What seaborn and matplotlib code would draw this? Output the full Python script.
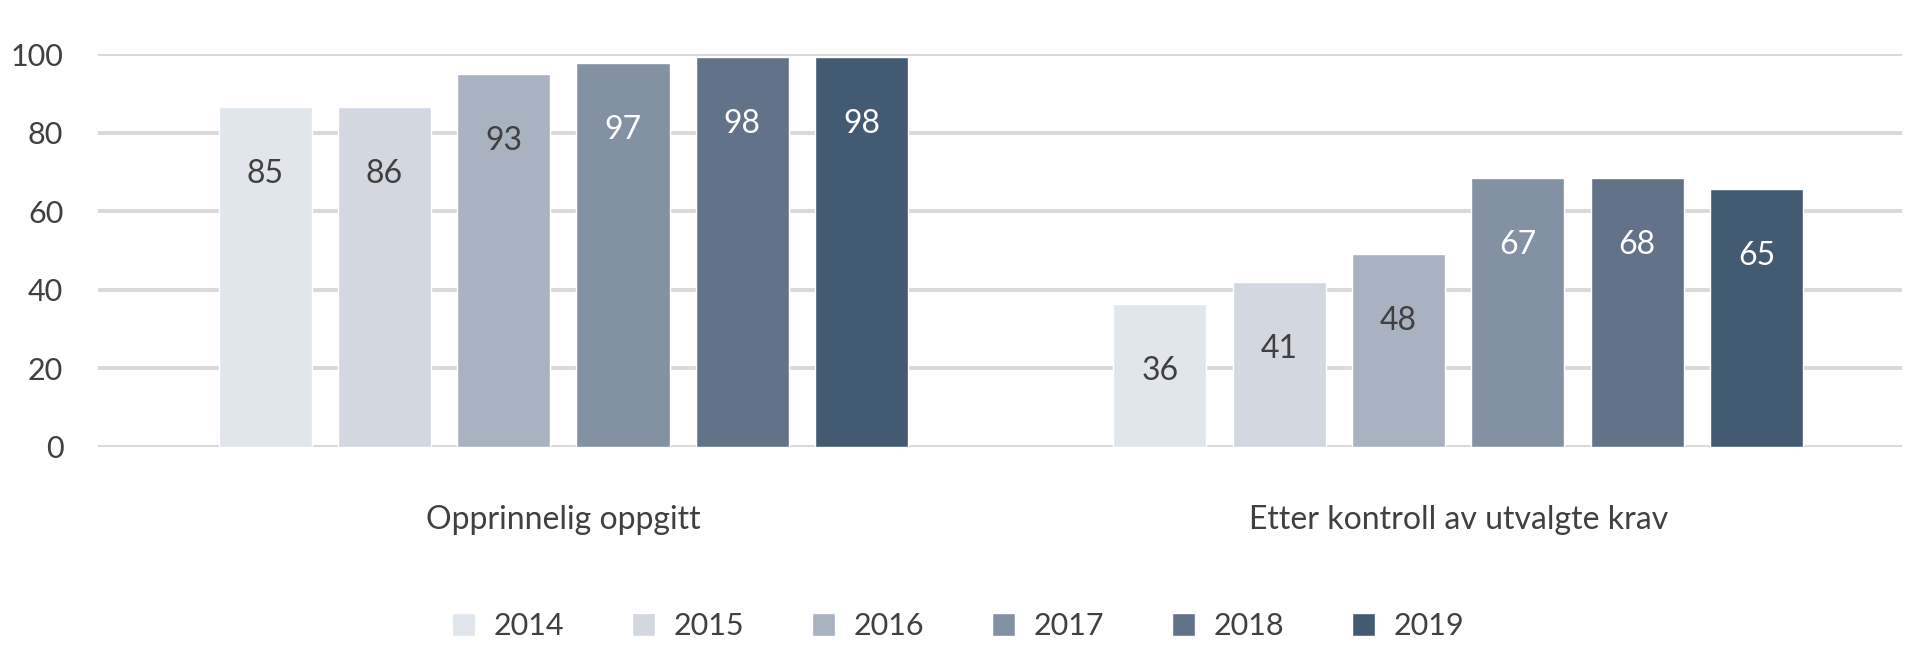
import numpy as np
import matplotlib
matplotlib.use("Agg")
import matplotlib.pyplot as plt
import seaborn as sns
import pandas as pd

# data
groups = ["Opprinnelig oppgitt", "Etter kontroll av utvalgte krav"]
years = ["2014", "2015", "2016", "2017", "2018", "2019"]
heights_orig = [86.6, 86.6, 95.0, 97.8, 99.3, 99.3]
heights_ctrl = [36.3, 42.0, 49.0, 68.5, 68.5, 65.7]
labels_orig = ["85", "86", "93", "97", "98", "98"]
labels_ctrl = ["36", "41", "48", "67", "68", "65"]
colors = ["#E1E5EC", "#D2D7E0", "#A9B2C0", "#8391A4", "#627389", "#435A73"]
label_colors = ["#404040", "#404040", "#404040", "white", "white", "white"]

df = pd.DataFrame({
    "group": [groups[0]] * 6 + [groups[1]] * 6,
    "year": years * 2,
    "value": heights_orig + heights_ctrl,
})

sns.set_style("white")
plt.rcParams["font.family"] = ["Lato", "DejaVu Sans"]
text_col = "#404040"

fig = plt.figure(figsize=(19.08, 6.45), dpi=100)
W, H = 1908, 645
ax = fig.add_axes([98 / W, 1 - 447 / H, 1804 / W, (447 - 54) / H])

sns.barplot(data=df, x="group", y="value", hue="year", palette=colors,
            width=0.8, gap=0.22, saturation=1, ax=ax, zorder=3, legend=True)

ax.set_ylim(0, 100)
ax.set_xlim(-0.52, 1.496)
ax.set_yticks([0, 20, 40, 60, 80, 100])
ax.yaxis.grid(True, color="#D9D9D9", linewidth=2.8, zorder=0)
ax.set_axisbelow(True)
for sp in ax.spines.values():
    sp.set_visible(False)
ax.tick_params(axis="y", length=0, pad=25, labelsize=22, labelcolor=text_col)
ax.tick_params(axis="x", length=0, pad=42, labelsize=23, labelcolor=text_col)
ax.set_xlabel("")
ax.set_ylabel("")

# value labels inside the bars
all_labels = [labels_orig, labels_ctrl]
for i, cont in enumerate(ax.containers):
    for j, bar in enumerate(cont):
        x = bar.get_x() + bar.get_width() / 2
        y = bar.get_height()
        ax.annotate(all_labels[j][i], (x, y), xytext=(0, -67), textcoords="offset pixels",
                    ha="center", va="center", fontsize=23, color=label_colors[i])

leg = ax.legend(loc="center", bbox_to_anchor=(958 / W, 1 - 626 / H), bbox_transform=fig.transFigure,
                ncol=6, frameon=False, fontsize=22, handlelength=0.78, handleheight=0.78,
                handletextpad=0.6, columnspacing=2.2)
for t in leg.get_texts():
    t.set_color(text_col)

fig.savefig("out.png", dpi=100)
